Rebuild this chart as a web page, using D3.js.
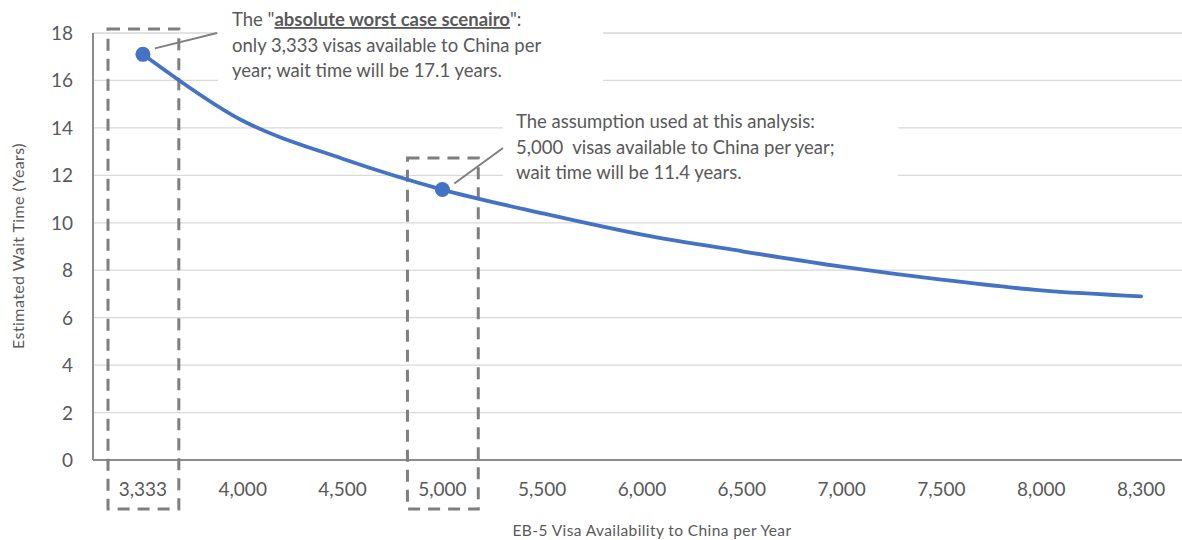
<!DOCTYPE html>
<html><head><meta charset="utf-8">
<script src="https://cdn.jsdelivr.net/npm/d3@7"></script>
<style>
html,body{margin:0;padding:0;background:#fff;}
text{font-family:Lato,"Noto Sans",sans-serif;}
</style></head>
<body>
<svg id="chart" width="1182" height="540"></svg>
<script>
const categories = ["3,333","4,000","4,500","5,000","5,500","6,000","6,500","7,000","7,500","8,000","8,300"];
const waitYears = [17.1, 14.3, 12.7, 11.4, 10.4, 9.5, 8.8, 8.15, 7.6, 7.15, 6.9];
const yTicks = [0,2,4,6,8,10,12,14,16,18];
const highlighted = ["3,333","5,000"];
const note1Lines = [
  [{t:'The "'},{t:'absolute worst case scenairo',b:true},{t:'":'}],
  [{t:'only 3,333 visas available to China per'}],
  [{t:'year; wait time will be 17.1 years.'}]
];
const note2Lines = [
  [{t:'The assumption used at this analysis:'}],
  [{t:'5,000  visas available to China per year;'}],
  [{t:'wait time will be 11.4 years.'}]
];
const xTitle = "EB-5 Visa Availability to China per Year";
const yTitle = "Estimated Wait Time (Years)";

const svg = d3.select("#chart");
const x = d3.scaleBand().domain(categories).range([93, 1191]).paddingInner(0).paddingOuter(0);
const y = d3.scaleLinear().domain([0, 18]).range([460, 33]);
const cx = c => x(c) + x.bandwidth()/2;
const grey = "#595959";

// gridlines
svg.append("g").selectAll("line").data(yTicks.filter(d=>d>0)).join("line")
  .attr("x1", 93).attr("x2", 1182)
  .attr("y1", d=>y(d)).attr("y2", d=>y(d))
  .attr("stroke", "#d9d9d9").attr("stroke-width", 1.3);

// y tick labels
svg.append("g").selectAll("text").data(yTicks).join("text")
  .attr("x", 73).attr("y", d=>y(d)+7)
  .attr("text-anchor","end").attr("font-size", 19).attr("fill", grey)
  .text(d=>d);

// x tick labels
svg.append("g").selectAll("text").data(categories).join("text")
  .attr("x", d=>cx(d)).attr("y", 496)
  .attr("text-anchor","middle").attr("font-size", 19).attr("fill", grey)
  .text(d=>d);

// axes lines
svg.append("line").attr("x1",93).attr("x2",93).attr("y1",y(18)).attr("y2",y(0))
  .attr("stroke","#8c8c8c").attr("stroke-width",2);
svg.append("line").attr("x1",93).attr("x2",1182).attr("y1",y(0)).attr("y2",y(0))
  .attr("stroke","#8c8c8c").attr("stroke-width",2);

// axis titles
svg.append("text").attr("x", 652).attr("y", 536).attr("text-anchor","middle")
  .attr("font-size", 15.5).attr("letter-spacing", 0.4).attr("fill", grey).text(xTitle);
svg.append("text").attr("transform","translate(24,246) rotate(-90)").attr("text-anchor","middle")
  .attr("font-size", 16).attr("letter-spacing", 0.4).attr("fill", grey).text(yTitle);

// annotation backgrounds (white boxes covering gridlines)
svg.append("rect").attr("x",218).attr("y",0).attr("width",385).attr("height",96).attr("fill","#fff");
svg.append("rect").attr("x",503).attr("y",104).attr("width",395).attr("height",92).attr("fill","#fff");

// dashed highlight boxes
svg.append("g").selectAll("rect").data(highlighted).join("rect")
  .attr("x", d=>x(d)+15).attr("width", x.bandwidth()-29)
  .attr("y", (d,i)=> i===0 ? 29 : 158)
  .attr("height", (d,i)=> i===0 ? 480 : 351)
  .attr("fill","none").attr("stroke","#7f7f7f").attr("stroke-width",3)
  .attr("stroke-dasharray","12,8");

// line
const line = d3.line().x((d,i)=>cx(categories[i])).y(d=>y(d)).curve(d3.curveCatmullRom.alpha(0.5));
svg.append("path").datum(waitYears).attr("d", line)
  .attr("fill","none").attr("stroke","#4472C4").attr("stroke-width",3.8).attr("stroke-linecap","round");

// markers
svg.append("g").selectAll("circle").data(highlighted).join("circle")
  .attr("cx", d=>cx(d)).attr("cy", d=>y(waitYears[categories.indexOf(d)]))
  .attr("r", 7.5).attr("fill","#4472C4");

// leader lines
const p1 = [cx("3,333"), y(waitYears[0])];
const p2 = [cx("5,000"), y(waitYears[3])];
svg.append("line").attr("x1",p1[0]+12).attr("y1",p1[1]-6).attr("x2",217).attr("y2",33)
  .attr("stroke","#7f7f7f").attr("stroke-width",2);
svg.append("line").attr("x1",p2[0]+12).attr("y1",p2[1]-6).attr("x2",503).attr("y2",148)
  .attr("stroke","#7f7f7f").attr("stroke-width",2);

function note(lines, x0, y0, lh){
  lines.forEach((segs,i)=>{
    const t = svg.append("text").attr("x",x0).attr("y",y0+i*lh)
      .attr("font-size",18.5).attr("fill",grey).attr("xml:space","preserve");
    segs.forEach(s=>{
      const ts = t.append("tspan").text(s.t);
      if(s.b){ ts.attr("font-weight","bold").attr("text-decoration","underline"); }
    });
  });
}
note(note1Lines, 232, 26, 25.5);
note(note2Lines, 516, 128, 25.5);
</script>
</body></html>
